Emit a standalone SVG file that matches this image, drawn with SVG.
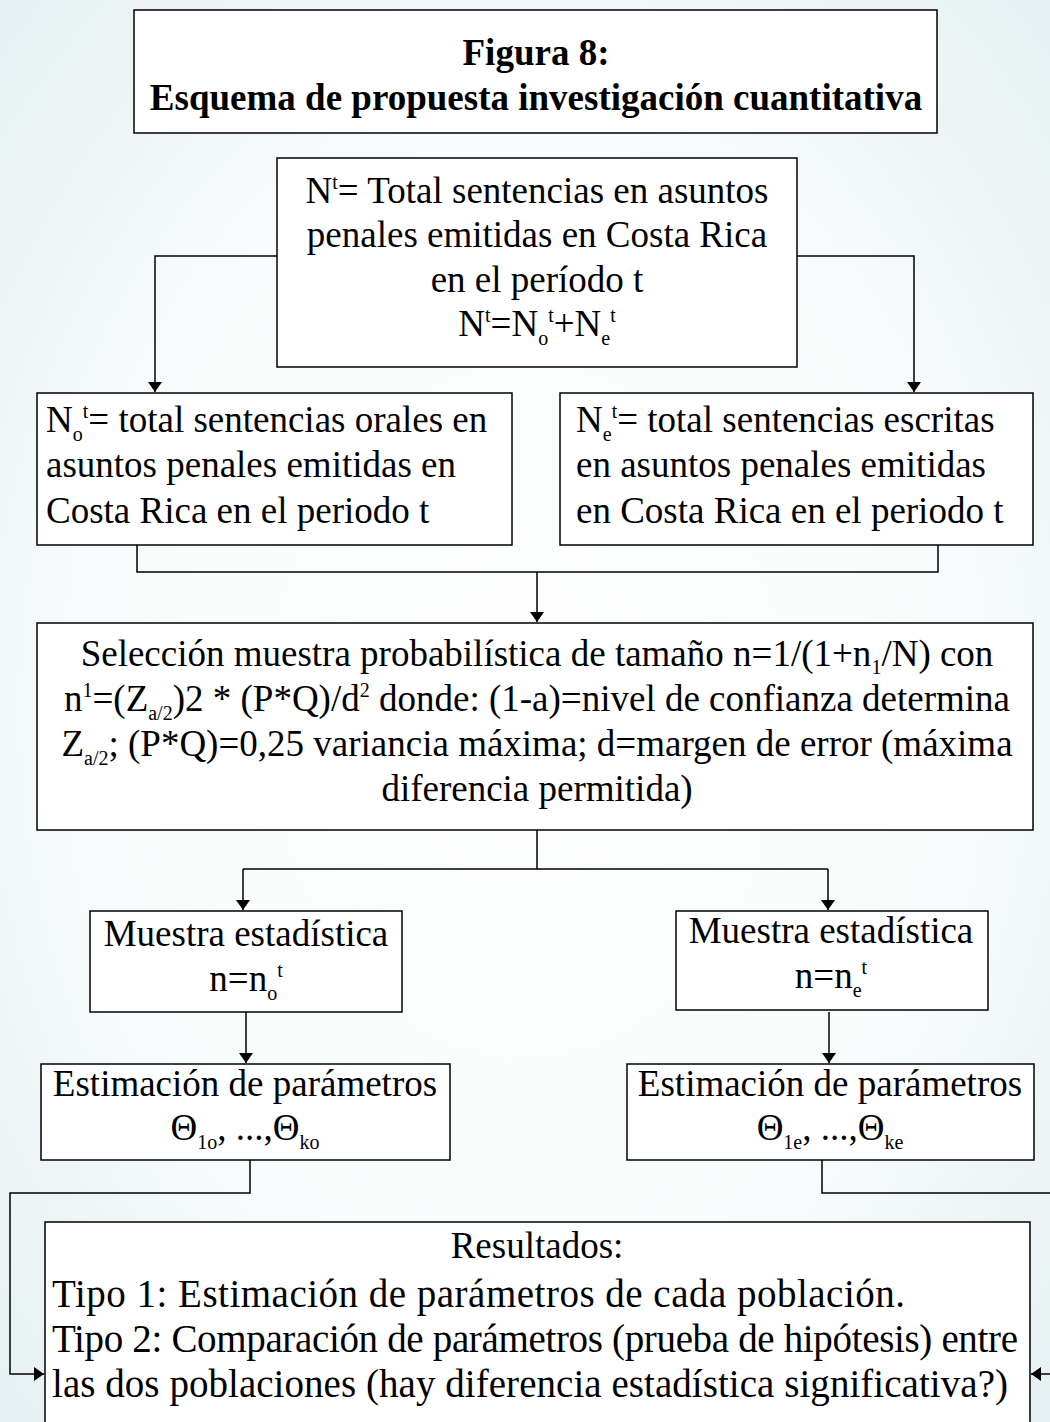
<svg xmlns="http://www.w3.org/2000/svg" width="1050" height="1422" viewBox="0 0 1050 1422">
<defs>
<radialGradient id="bg" cx="0.5" cy="0.5" r="0.75">
<stop offset="0" stop-color="#ffffff"/>
<stop offset="0.55" stop-color="#f8fbfb"/>
<stop offset="1" stop-color="#e3eef0"/>
</radialGradient>
<marker id="ah" viewBox="0 0 10 14" refX="10" refY="7" markerWidth="10" markerHeight="14" markerUnits="userSpaceOnUse" orient="auto">
<path d="M0,0 L10,7 L0,14 Z" fill="#000"/>
</marker>
<style>
.box{fill:#fff;stroke:#000;stroke-width:1.5}
.t{font-family:"Liberation Serif","Times New Roman",serif;font-size:37px;fill:#000}
.r{font-size:39px}
.c{text-anchor:middle}
.b{font-weight:bold}
.s{font-size:20px}
.ln{fill:none;stroke:#000;stroke-width:1.5}
</style>
</defs>
<rect width="1050" height="1422" fill="url(#bg)"/>

<g id="title">
<rect class="box" x="134" y="10" width="803" height="123"/>
<text class="t c b" x="536" y="65">Figura 8:</text>
<text class="t c b" x="536" y="110">Esquema de propuesta investigación cuantitativa</text>
</g>

<g id="total">
<rect class="box" x="277" y="158" width="520" height="209"/>
<text class="t c" x="537" y="203">N<tspan class="s" dy="-14">t</tspan><tspan dy="14">= Total sentencias en asuntos</tspan></text>
<text class="t c" x="537" y="247">penales emitidas en Costa Rica</text>
<text class="t c" x="537" y="292">en el período t</text>
<text class="t c" x="537" y="336">N<tspan class="s" dy="-14">t</tspan><tspan dy="14">=N</tspan><tspan class="s" dy="9">o</tspan><tspan class="s" dy="-23">t</tspan><tspan dy="14">+N</tspan><tspan class="s" dy="9">e</tspan><tspan class="s" dy="-23">t</tspan></text>
</g>

<g id="orales">
<rect class="box" x="37" y="393" width="475" height="152"/>
<text class="t" x="46" y="432">N<tspan class="s" dy="9">o</tspan><tspan class="s" dy="-23">t</tspan><tspan dy="14">= total sentencias orales en</tspan></text>
<text class="t" x="46" y="477">asuntos penales emitidas en</text>
<text class="t" x="46" y="523">Costa Rica en el periodo t</text>
</g>

<g id="escritas">
<rect class="box" x="560" y="393" width="473" height="152"/>
<text class="t" x="576" y="432">N<tspan class="s" dy="9">e</tspan><tspan class="s" dy="-23">t</tspan><tspan dy="14">= total sentencias escritas</tspan></text>
<text class="t" x="576" y="477">en asuntos penales emitidas</text>
<text class="t" x="576" y="523">en Costa Rica en el periodo t</text>
</g>

<g id="seleccion">
<rect class="box" x="37" y="623" width="996" height="207"/>
<text class="t c" x="537" y="666">Selección muestra probabilística de tamaño n=1/(1+n<tspan class="s" dy="8">1</tspan><tspan dy="-8">/N) con</tspan></text>
<text class="t c" x="537" y="711">n<tspan class="s" dy="-14">1</tspan><tspan dy="14">=(Z</tspan><tspan class="s" dy="9">a/2</tspan><tspan dy="-9">)2 * (P*Q)/d</tspan><tspan class="s" dy="-14">2</tspan><tspan dy="14"> donde: (1-a)=nivel de confianza determina</tspan></text>
<text class="t c" x="537" y="756">Z<tspan class="s" dy="9">a/2</tspan><tspan dy="-9">; (P*Q)=0,25 variancia máxima; d=margen de error (máxima</tspan></text>
<text class="t c" x="537" y="801">diferencia permitida)</text>
</g>

<g id="muestra-o">
<rect class="box" x="90" y="911" width="312" height="101"/>
<text class="t c" x="246" y="946">Muestra estadística</text>
<text class="t c" x="246" y="991">n=n<tspan class="s" dy="9">o</tspan><tspan class="s" dy="-23">t</tspan></text>
</g>

<g id="muestra-e">
<rect class="box" x="676" y="911" width="312" height="99"/>
<text class="t c" x="831" y="943">Muestra estadística</text>
<text class="t c" x="831" y="988">n=n<tspan class="s" dy="9">e</tspan><tspan class="s" dy="-23">t</tspan></text>
</g>

<g id="estim-o">
<rect class="box" x="41" y="1064" width="409" height="96"/>
<text class="t c" x="245" y="1096">Estimación de parámetros</text>
<text class="t c" x="245" y="1140">Θ<tspan class="s" dy="9">1o</tspan><tspan dy="-9">, ...,Θ</tspan><tspan class="s" dy="9">ko</tspan></text>
</g>

<g id="estim-e">
<rect class="box" x="627" y="1064" width="407" height="96"/>
<text class="t c" x="830" y="1096">Estimación de parámetros</text>
<text class="t c" x="830" y="1140">Θ<tspan class="s" dy="9">1e</tspan><tspan dy="-9">, ...,Θ</tspan><tspan class="s" dy="9">ke</tspan></text>
</g>

<g id="resultados">
<rect class="box" x="45" y="1222" width="985" height="220"/>
<text class="t c" x="537" y="1258">Resultados:</text>
<text class="t r" x="52" y="1307" textLength="853">Tipo 1: Estimación de parámetros de cada población.</text>
<text class="t r" x="52" y="1352" textLength="966">Tipo 2: Comparación de parámetros (prueba de hipótesis) entre</text>
<text class="t r" x="52" y="1397" textLength="956">las dos poblaciones (hay diferencia estadística significativa?)</text>
</g>

<g id="connectors">
<path class="ln" d="M277,256 H155 V392" marker-end="url(#ah)"/>
<path class="ln" d="M797,256 H914 V392" marker-end="url(#ah)"/>
<path class="ln" d="M137,545 V572 H938 V545"/>
<path class="ln" d="M537,572 V622" marker-end="url(#ah)"/>
<path class="ln" d="M537,830 V869"/>
<path class="ln" d="M243,869 H828"/>
<path class="ln" d="M243,869 V910" marker-end="url(#ah)"/>
<path class="ln" d="M828,869 V910" marker-end="url(#ah)"/>
<path class="ln" d="M246,1012 V1063" marker-end="url(#ah)"/>
<path class="ln" d="M829,1012 V1063" marker-end="url(#ah)"/>
<path class="ln" d="M250,1160 V1193 H10 V1374 H44" marker-end="url(#ah)"/>
<path class="ln" d="M822,1160 V1193 H1052"/>
<path class="ln" d="M1052,1374 H1031" marker-end="url(#ah)"/>
</g>
</svg>
